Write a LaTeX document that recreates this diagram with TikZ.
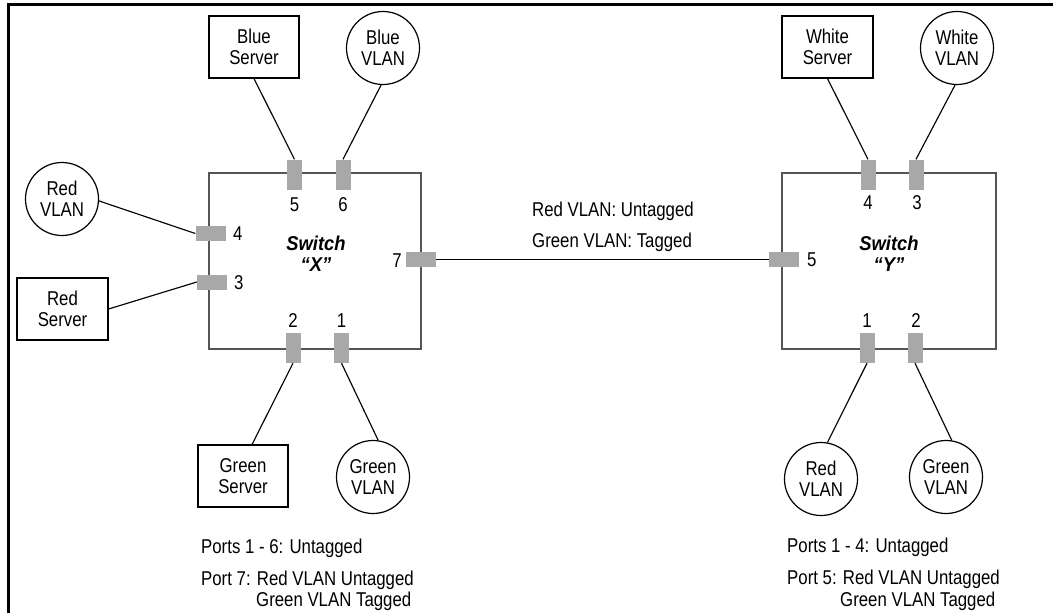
\documentclass[tikz,border=0pt]{standalone}
\usepackage{fontspec}
\setmainfont{Liberation Sans}[FakeStretch=0.84]
\newfontfamily\swfont{Liberation Sans}[FakeStretch=0.92]
\definecolor{swgray}{RGB}{85,85,85}
\definecolor{portgray}{RGB}{168,168,168}
\tikzset{
  txt/.style={font=\fontsize{20}{21}\selectfont, inner sep=0pt, align=center},
  srv/.style={draw, line width=1.2pt, minimum width=90pt, minimum height=62pt, inner sep=0pt,
              font=\fontsize{20}{21}\selectfont, align=center},
  vlan/.style={draw, circle, line width=1.2pt, minimum size=73pt, inner sep=0pt,
               font=\fontsize{20}{21}\selectfont, align=center},
  swbox/.style={draw=swgray, line width=1.3pt, minimum height=176pt, inner sep=0pt},
  vport/.style={fill=portgray, minimum width=15pt, minimum height=30pt, inner sep=0pt},
  hport/.style={fill=portgray, minimum width=30pt, minimum height=15pt, inner sep=0pt},
  link/.style={line width=1.15pt},
  swlabel/.style={font=\swfont\fontsize{20}{21}\selectfont\bfseries\itshape, inner sep=0pt, align=center},
}
\begin{document}
\begin{tikzpicture}[x=1pt,y=-1pt]
\useasboundingbox (0,0) rectangle (1053,613);
% frame
\draw[line width=3pt] (8,613) -- (8,4) -- (1053,4);

% switches
\node[swbox, minimum width=212pt] (swX) at (315,261) {};
\node[swbox, minimum width=214pt] (swY) at (889,261) {};
\node[swlabel] (swXl) at (316,254) {Switch\\“X”};
\node[swlabel] (swYl) at (889,254) {Switch\\“Y”};

% ports switch X
\node[vport] (p5X) at (294.5,174.5) {};
\node[vport] (p6X) at (343,174.5) {};
\node[vport] (p2X) at (293,348) {};
\node[vport] (p1X) at (341.5,348) {};
\node[hport] (p4X) at (210.5,233.5) {};
\node[hport] (p3X) at (212,282) {};
\node[hport] (p7X) at (421,259.5) {};
% ports switch Y
\node[vport] (p4Y) at (868,174.5) {};
\node[vport] (p3Y) at (916,174.5) {};
\node[vport] (p1Y) at (867,348) {};
\node[vport] (p2Y) at (915,348) {};
\node[hport] (p5Y) at (784,259.5) {};

% port numbers
\node[txt, anchor=base] (n5X) at (294.5,211) {5};
\node[txt, anchor=base] (n6X) at (343,211) {6};
\node[txt, anchor=base west] (n4X) at (233,240) {4};
\node[txt, anchor=base west] (n3X) at (234,289) {3};
\node[txt, anchor=base east] (n7X) at (402,267) {7};
\node[txt, anchor=base] (n2X) at (293,327) {2};
\node[txt, anchor=base] (n1X) at (341.5,327) {1};
\node[txt, anchor=base] (n4Y) at (868,209) {4};
\node[txt, anchor=base] (n3Y) at (917,209) {3};
\node[txt, anchor=base west] (n5Y) at (807,266) {5};
\node[txt, anchor=base] (n1Y) at (867,327) {1};
\node[txt, anchor=base] (n2Y) at (916,327) {2};

% servers and VLANs
\node[srv] (bserv) at (254,47) {Blue\\Server};
\node[vlan] (bvlan) at (383,48) {Blue\\VLAN};
\node[vlan] (rvlanX) at (62,199) {Red\\VLAN};
\node[srv, minimum width=91pt] (rservX) at (62.5,309) {Red\\Server};
\node[srv] (gservX) at (243,476) {Green\\Server};
\node[vlan] (gvlanX) at (373,477) {Green\\VLAN};
\node[srv, minimum width=91pt] (wserv) at (827.5,47) {White\\Server};
\node[vlan] (wvlan) at (957,48) {White\\VLAN};
\node[vlan] (rvlanY) at (821,479) {Red\\VLAN};
\node[vlan] (gvlanY) at (946,477) {Green\\VLAN};

% links
\draw[link] (bserv.south) -- (p5X.north);
\draw[link] (bvlan.-93) -- (p6X.north);
\draw[link] (rvlanX.-3) -- (p4X.west);
\draw[link] (rservX.east) -- (p3X.west);
\draw[link] (gservX.74) -- (p2X.south);
\draw[link] (gvlanX.82) -- (p1X.south);
\draw[link] (wserv.south) -- (p4Y.north);
\draw[link] (wvlan.-93) -- (p3Y.north);
\draw[link] (rvlanY.80) -- (p1Y.south);
\draw[link] (gvlanY.81) -- (p2Y.south);
\draw[link] (p7X.east) -- (p5Y.west);

% trunk text
\node[txt, anchor=base west] (t1) at (532,216) {Red VLAN: Untagged};
\node[txt, anchor=base west] (t2) at (532,247) {Green VLAN: Tagged};

% notes
\node[txt, anchor=base west] (nx1) at (201,553) {Ports 1 - 6: Untagged};
\node[txt, anchor=base west] (nx2) at (201,585) {Port 7: Red VLAN Untagged};
\node[txt, anchor=base west] (nx3) at (256,606) {Green VLAN Tagged};
\node[txt, anchor=base west] (ny1) at (787,552) {Ports 1 - 4: Untagged};
\node[txt, anchor=base west] (ny2) at (787,584) {Port 5: Red VLAN Untagged};
\node[txt, anchor=base west] (ny3) at (840,606) {Green VLAN Tagged};
\end{tikzpicture}
\end{document}
